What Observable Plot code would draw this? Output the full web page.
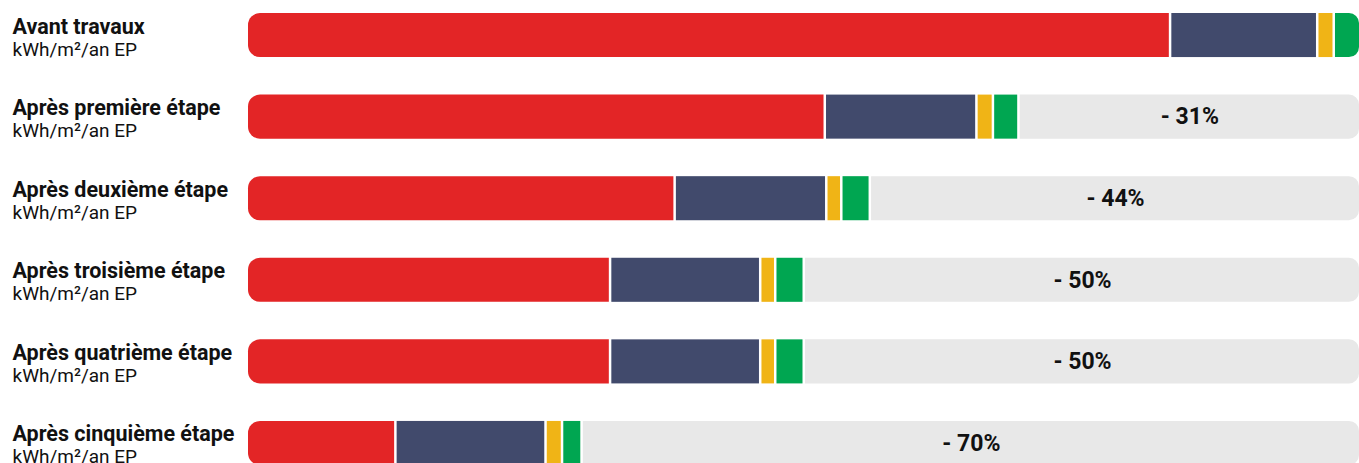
<!DOCTYPE html>
<html>
<head>
<meta charset="utf-8">
<script src="https://cdn.jsdelivr.net/npm/d3@7"></script>
<script src="https://cdn.jsdelivr.net/npm/@observablehq/plot@0.6"></script>
<style>
  html, body { margin: 0; padding: 0; background: #fff; }
  svg { display: block; }
</style>
</head>
<body>
<div id="chart"></div>
<script>
// --- data (kWh/m²/an EP) ---
const etapes = [
  "Avant travaux",
  "Après première étape",
  "Après deuxième étape",
  "Après troisième étape",
  "Après quatrième étape",
  "Après cinquième étape"
];
const unite = "kWh/m²/an EP";
const poste1 = [307.5, 192.5, 142.5, 121, 121, 49.5]; // rouge
const poste2 = [49, 50.5, 50.5, 50, 50, 50];          // bleu nuit
const poste3 = [5.5, 5.5, 5, 5, 5, 5.5];              // jaune
const poste4 = [8, 8.5, 9.5, 9.5, 9.5, 6.5];          // vert
const gains = ["", "- 31%", "- 44%", "- 50%", "- 50%", "- 70%"];

const postes = ["poste1", "poste2", "poste3", "poste4"];
const couleurs = ["#e32526", "#414a6c", "#f0b416", "#00a651"];
const series = [poste1, poste2, poste3, poste4];

// build segments (stacked)
const segments = [];
const totals = [];
etapes.forEach((e, i) => {
  let acc = 0;
  series.forEach((s, k) => {
    segments.push({etape: e, poste: postes[k], x1: acc, x2: acc + s[i], row: i, k});
    acc += s[i];
  });
  totals.push({etape: e, total: acc, gain: gains[i], row: i});
});
const maxTotal = d3.max(totals, d => d.total);

const W = 1359, H = 463;
const common = {y: "etape", fill: "poste"};

const chart = Plot.plot({
  width: W,
  height: H,
  marginLeft: 248,
  marginRight: 0,
  marginTop: 13,
  marginBottom: 0,
  x: {domain: [0, maxTotal], axis: null},
  y: {domain: etapes, range: [13, 465], paddingInner: 0.46, paddingOuter: 0, align: 0, round: false, axis: null},
  color: {domain: postes, range: couleurs},
  style: {fontFamily: "Roboto, sans-serif", color: "#111"},
  marks: [
    // grey remainder
    Plot.barX(totals.filter(d => d.total < maxTotal), {
      y: "etape", x1: "total", x2: () => maxTotal, fill: "#e8e8e8", rx2: 10
    }),
    // red with rounded left side
    Plot.barX(segments.filter(d => d.k === 0), {...common, x1: "x1", x2: "x2", insetRight: 2.5, rx1: 12}),
    Plot.barX(segments.filter(d => d.k === 1 || d.k === 2), {...common, x1: "x1", x2: "x2", insetRight: 2.5}),
    Plot.barX(segments.filter(d => d.k === 3 && d.row > 0), {...common, x1: "x1", x2: "x2", insetRight: 2.5}),
    Plot.barX(segments.filter(d => d.k === 3 && d.row === 0), {...common, x1: "x1", x2: "x2", rx2: 10}),
    // labels
    Plot.text(etapes, {
      y: d => d, text: d => d, frameAnchor: "left", dx: -236, dy: -2,
      textAnchor: "start", lineAnchor: "bottom", fontWeight: "bold", fontSize: 21.5, fill: "#111"
    }),
    Plot.text(etapes, {
      y: d => d, text: () => unite, frameAnchor: "left", dx: -236, dy: 20,
      textAnchor: "start", lineAnchor: "bottom", fontSize: 19, fill: "#111"
    }),
    Plot.text(totals.filter(d => d.gain), {
      y: "etape", x: d => (d.total + maxTotal) / 2, text: "gain",
      fontWeight: "bold", fontSize: 23, fill: "#111"
    })
  ]
});
document.getElementById("chart").appendChild(chart);
</script>
</body>
</html>
